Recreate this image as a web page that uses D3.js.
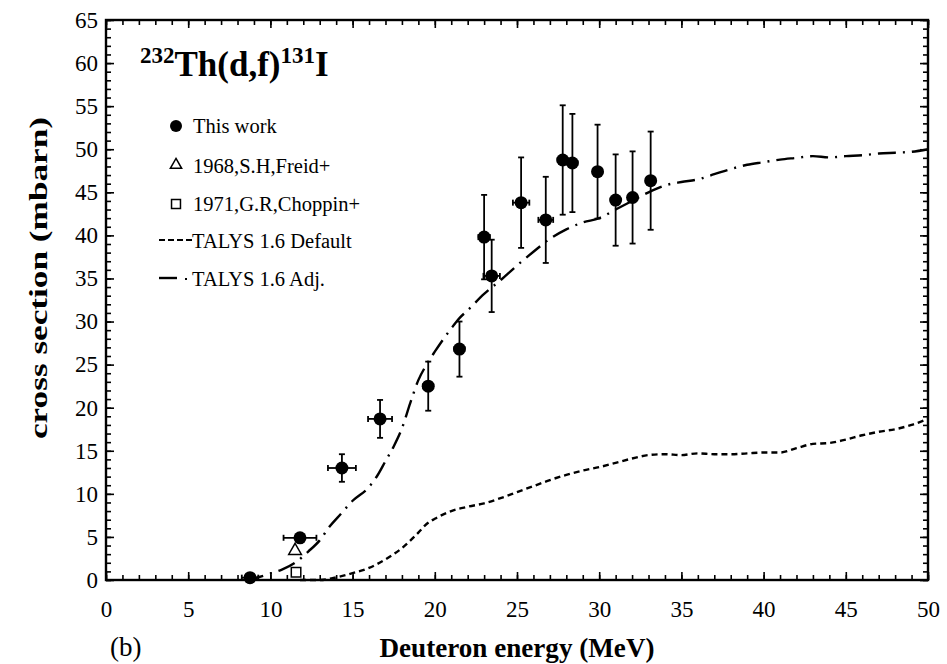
<!DOCTYPE html>
<html><head><meta charset="utf-8">
<script src="https://cdn.jsdelivr.net/npm/d3@7"></script>
<style>body{margin:0;background:#fff}svg{display:block}svg text{font-family:'Liberation Serif','Times New Roman',serif !important;fill:#000}</style>
</head><body>
<svg id="c" width="947" height="664"></svg>
<script>
// ---- data ----
const thisWorkE    = [8.76, 11.8, 14.35, 16.67, 19.6, 21.5, 23.0, 23.46, 25.25, 26.75, 27.78, 28.37, 29.9, 31.0, 32.03, 33.13];
const thisWorkXS   = [0.27, 4.9, 13.0, 18.7, 22.5, 26.8, 39.8, 35.3, 43.8, 41.8, 48.75, 48.4, 47.4, 44.1, 44.4, 46.35];
const thisWorkErrE = [0.5, 1.0, 0.85, 0.73, 0.3, 0.3, 0.35, 0.5, 0.5, 0.45, 0.3, 0.3, 0.2, 0.2, 0.2, 0.2];
const thisWorkErrXS= [0.1, 0.3, 1.6, 2.2, 2.85, 3.2, 4.9, 4.2, 5.25, 5.0, 6.35, 5.7, 5.45, 5.3, 5.35, 5.7];
const freidE = [11.5], freidXS = [3.4];
const choppinE = [11.56], choppinXS = [0.9];
const talysDefE  = [11.8, 13, 14, 15, 16, 17, 18, 19, 19.5, 20, 21, 22, 23, 24, 25, 26, 27, 28, 29, 30, 31, 32, 33, 34, 35, 36, 37, 38, 39, 40, 41, 42, 43, 44, 45, 46, 47, 48, 49, 50];
const talysDefXS = [0, 0, 0.3, 0.8, 1.4, 2.4, 3.7, 5.5, 6.5, 7.1, 8.0, 8.5, 8.9, 9.5, 10.2, 10.9, 11.6, 12.2, 12.7, 13.1, 13.6, 14.1, 14.5, 14.6, 14.5, 14.7, 14.6, 14.6, 14.7, 14.8, 14.8, 15.3, 15.8, 15.9, 16.3, 16.8, 17.2, 17.5, 18.0, 18.7];
const talysAdjE  = [8.5, 9, 10, 10.7, 11.5, 12.3, 13, 13.6, 14.3, 15, 16, 16.5, 17, 17.5, 18, 18.5, 19, 19.5, 20, 21, 21.5, 22, 23, 24, 25, 26, 27, 28, 29, 30, 31, 32, 33, 34, 35, 36, 37, 38, 39, 40, 41, 42, 43, 44, 45, 46, 47, 48, 49, 50];
const talysAdjXS = [0, 0.2, 0.75, 1.2, 2.0, 3.3, 4.6, 6.2, 7.7, 9.2, 10.8, 12.1, 13.8, 15.5, 17.6, 20.5, 23.2, 25.0, 26.5, 29.2, 30.4, 31.3, 33.2, 34.8, 36.5, 38.1, 39.6, 40.7, 41.5, 42.0, 43.0, 44.0, 45.0, 45.8, 46.2, 46.5, 47.1, 47.7, 48.2, 48.5, 48.8, 49.0, 49.2, 49.05, 49.2, 49.3, 49.5, 49.6, 49.7, 50.0];
const xTickVals = [0, 5, 10, 15, 20, 25, 30, 35, 40, 45, 50];
const yTickVals = [0, 5, 10, 15, 20, 25, 30, 35, 40, 45, 50, 55, 60, 65];
const legendLabels = ["This work", "1968,S.H,Freid+", "1971,G.R,Choppin+", "TALYS 1.6 Default", "TALYS 1.6 Adj."];

// ---- layout ----
const L = 106, R = 928, T = 20, B = 580;
const SERIF = "'Liberation Serif','Times New Roman',serif";
const svg = d3.select("#c");
const x = d3.scaleLinear().domain([0, 50]).range([L, R]);
const y = d3.scaleLinear().domain([0, 65]).range([B, T]);

const minorX = d3.range(0, 51, 1), minorY = d3.range(0, 66, 1);
function tickAxis(axisFn, scale, vals, size, tr){
  const g = svg.append("g").attr("transform", tr)
    .call(axisFn(scale).tickValues(vals).tickSize(size).tickFormat(""));
  g.select(".domain").remove();
  g.selectAll("line").attr("stroke", "#000").attr("stroke-width", 1.6);
  return g;
}
tickAxis(d3.axisTop, x, minorX, 5, `translate(0,${B})`);
tickAxis(d3.axisTop, x, xTickVals, 8, `translate(0,${B})`);
tickAxis(d3.axisBottom, x, minorX, 5, `translate(0,${T})`);
tickAxis(d3.axisBottom, x, xTickVals, 8, `translate(0,${T})`);
tickAxis(d3.axisRight, y, minorY, 5, `translate(${L},0)`);
tickAxis(d3.axisRight, y, yTickVals, 8, `translate(${L},0)`);
tickAxis(d3.axisLeft, y, minorY, 5, `translate(${R},0)`);
tickAxis(d3.axisLeft, y, yTickVals, 8, `translate(${R},0)`);

// tick labels
const gx = svg.append("g").attr("transform", `translate(0,${B})`)
  .call(d3.axisBottom(x).tickValues(xTickVals).tickSize(0).tickPadding(21).tickFormat(d3.format("d")));
gx.attr("font-family", SERIF).attr("font-size", 23);
gx.select(".domain").remove();
gx.selectAll("text").style("font-size", "23px");
const gy = svg.append("g").attr("transform", `translate(${L},0)`)
  .call(d3.axisLeft(y).tickValues(yTickVals).tickSize(0).tickPadding(8).tickFormat(d3.format("d")));
gy.attr("font-family", SERIF).attr("font-size", 23);
gy.select(".domain").remove();
gy.selectAll("text").style("font-size", "23px");

// frame
svg.append("rect").attr("x", L).attr("y", T).attr("width", R - L).attr("height", B - T)
  .attr("fill", "none").attr("stroke", "#000").attr("stroke-width", 2.4);

// curves
const line = d3.line().x(d => x(d[0])).y(d => y(d[1])).curve(d3.curveMonotoneX);
svg.append("path").datum(talysDefE.map((e, i) => [e, talysDefXS[i]]))
  .attr("d", line).attr("fill", "none").attr("stroke", "#000")
  .attr("stroke-width", 2.4).attr("stroke-dasharray", "6,4");
svg.append("path").datum(talysAdjE.map((e, i) => [e, talysAdjXS[i]]))
  .attr("d", line).attr("fill", "none").attr("stroke", "#000")
  .attr("stroke-width", 2.4).attr("stroke-dasharray", "18,7,2,7");

// error bars
const eb = svg.append("g").attr("stroke", "#000").attr("stroke-width", 1.8);
thisWorkE.forEach((e, i) => {
  const cx = x(e), cy = y(thisWorkXS[i]);
  const y1 = y(thisWorkXS[i] + thisWorkErrXS[i]), y2 = y(thisWorkXS[i] - thisWorkErrXS[i]);
  const x1 = x(e - thisWorkErrE[i]), x2 = x(e + thisWorkErrE[i]);
  eb.append("line").attr("x1", cx).attr("x2", cx).attr("y1", y1).attr("y2", y2);
  eb.append("line").attr("x1", cx - 3).attr("x2", cx + 3).attr("y1", y1).attr("y2", y1);
  eb.append("line").attr("x1", cx - 3).attr("x2", cx + 3).attr("y1", y2).attr("y2", y2);
  eb.append("line").attr("x1", x1).attr("x2", x2).attr("y1", cy).attr("y2", cy);
  eb.append("line").attr("x1", x1).attr("x2", x1).attr("y1", cy - 3).attr("y2", cy + 3);
  eb.append("line").attr("x1", x2).attr("x2", x2).attr("y1", cy - 3).attr("y2", cy + 3);
});
svg.append("g").selectAll("circle").data(thisWorkE).join("circle")
  .attr("cx", d => x(d)).attr("cy", (d, i) => y(thisWorkXS[i])).attr("r", 6.5).attr("fill", "#000");

const tri = d3.symbol().type(d3.symbolTriangle).size(70);
const sq = d3.symbol().type(d3.symbolSquare).size(90);
svg.append("g").selectAll("path").data(freidE).join("path")
  .attr("transform", (d, i) => `translate(${x(d)},${y(freidXS[i])})`).attr("d", tri)
  .attr("fill", "#fff").attr("stroke", "#000").attr("stroke-width", 1.5);
svg.append("g").selectAll("path").data(choppinE).join("path")
  .attr("transform", (d, i) => `translate(${x(d)},${y(choppinXS[i])})`).attr("d", sq)
  .attr("fill", "#fff").attr("stroke", "#000").attr("stroke-width", 1.5);

// title
const title = svg.append("text").attr("x", 140).attr("y", 76).attr("font-family", SERIF)
  .style("font-weight", "bold").style("font-size", "35px");
title.append("tspan").text("232").style("font-size", "23px").attr("dy", "-13");
title.append("tspan").text("Th(d,f)").attr("dy", "13");
title.append("tspan").text("131").style("font-size", "23px").attr("dy", "-13");
title.append("tspan").text("I").attr("dy", "13");

// legend
const legY = [126, 166, 204, 241, 279];
const lg = svg.append("g").attr("font-family", SERIF);
legendLabels.forEach((t, i) => {
  lg.append("text").attr("x", i < 3 ? 193 : 192).attr("y", legY[i] + 7).style("font-size", "20.5px").text(t);
});
lg.append("circle").attr("cx", 176).attr("cy", legY[0]).attr("r", 6).attr("fill", "#000");
lg.append("path").attr("transform", `translate(176,${legY[1] - 1})`).attr("d", d3.symbol().type(d3.symbolTriangle).size(55))
  .attr("fill", "#fff").attr("stroke", "#000").attr("stroke-width", 1.5);
lg.append("path").attr("transform", `translate(176,${legY[2]})`).attr("d", d3.symbol().type(d3.symbolSquare).size(80))
  .attr("fill", "#fff").attr("stroke", "#000").attr("stroke-width", 1.5);
lg.append("line").attr("x1", 159).attr("x2", 192).attr("y1", legY[3] - 1).attr("y2", legY[3] - 1)
  .attr("stroke", "#000").attr("stroke-width", 2.2).attr("stroke-dasharray", "6,3");
lg.append("line").attr("x1", 159).attr("x2", 177).attr("y1", legY[4] - 1).attr("y2", legY[4] - 1)
  .attr("stroke", "#000").attr("stroke-width", 2.4);
lg.append("line").attr("x1", 185).attr("x2", 187).attr("y1", legY[4]).attr("y2", legY[4])
  .attr("stroke", "#000").attr("stroke-width", 2);

// axis titles
svg.append("text").attr("x", 517).attr("y", 657).attr("text-anchor", "middle").attr("font-family", SERIF)
  .attr("textLength", 275).attr("lengthAdjust", "spacingAndGlyphs")
  .style("font-weight", "bold").style("font-size", "27px").text("Deuteron energy (MeV)");
svg.append("text").attr("x", 110).attr("y", 656).attr("font-family", SERIF)
  .style("font-size", "27px").text("(b)");
svg.append("text").attr("transform", "translate(47,278) rotate(-90)").attr("text-anchor", "middle").attr("font-family", SERIF)
  .attr("textLength", 322).attr("lengthAdjust", "spacingAndGlyphs")
  .style("font-weight", "bold").style("font-size", "26px").text("cross section (mbarn)");
</script>
</body></html>
